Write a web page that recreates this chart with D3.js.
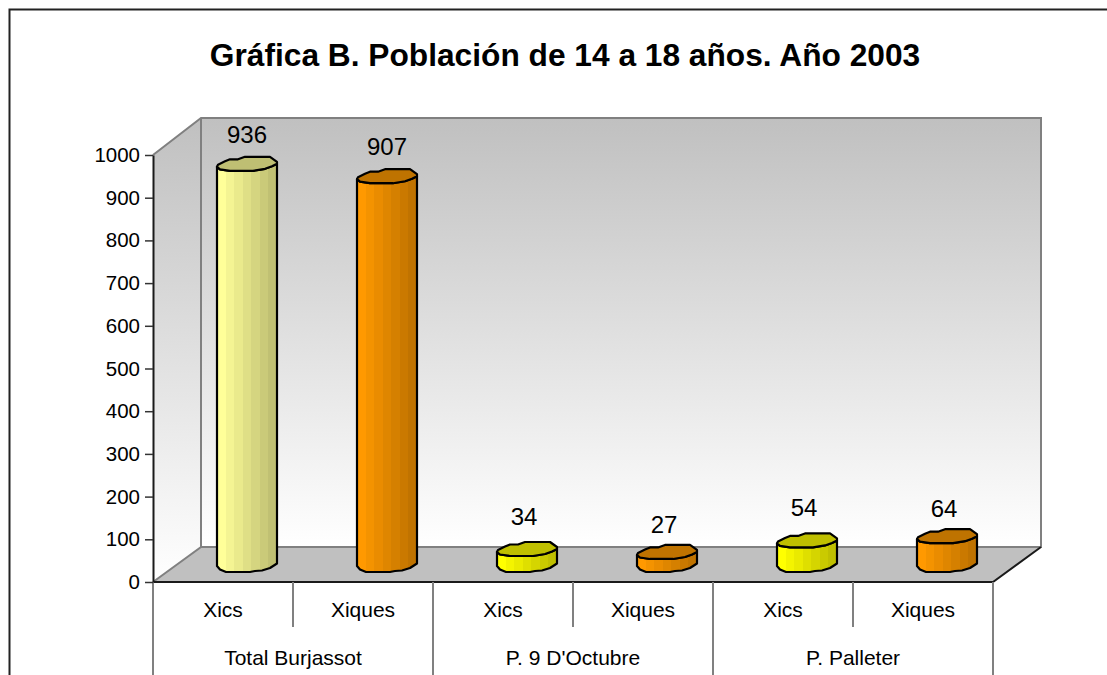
<!DOCTYPE html>
<html>
<head>
<meta charset="utf-8">
<script src="https://cdn.jsdelivr.net/npm/d3@7"></script>
<style>
body { margin: 0; background: #fff; }
svg { display: block; }
text { font-family: "Liberation Sans", Arial, sans-serif; fill: #000; }
</style>
</head>
<body>
<script>
var title = "Gráfica B. Población de 14 a 18 años. Año 2003";
var groups = ["Total Burjassot", "P. 9 D'Octubre", "P. Palleter"];
var categories = ["Xics", "Xiques", "Xics", "Xiques", "Xics", "Xiques"];
var values = [936, 907, 34, 27, 54, 64];
var barColors = ["#ffff99", "#ff9900", "#ffff00", "#ff9900", "#ffff00", "#ff9900"];
var yTicks = [0, 100, 200, 300, 400, 500, 600, 700, 800, 900, 1000];

var width = 1107, height = 675;
var x0 = 153, x1 = 993, yBase = 582, yTop = 155;
var depthX = 48, depthY = -35, wallTop = 118;

var svg = d3.select("body").append("svg")
    .attr("width", width)
    .attr("height", height);
var defs = svg.append("defs");

var x = d3.scaleBand().domain(d3.range(categories.length)).range([x0, x1]);
var xGroup = d3.scaleBand().domain(d3.range(groups.length)).range([x0, x1]);
var y = d3.scaleLinear().domain([0, 1000]).range([yBase, yTop]);

var line = d3.line();

// outer chart frame, its right and bottom edges fall off the page
svg.append("path")
    .attr("d", line([[9.5, height], [9.5, 9.5], [width, 9.5]]))
    .attr("fill", "none")
    .attr("stroke", "#222")
    .attr("stroke-width", 2);

svg.append("text")
    .attr("x", 565)
    .attr("y", 66)
    .attr("text-anchor", "middle")
    .attr("font-size", 31.7)
    .attr("font-weight", "bold")
    .text(title);

// walls
var wallGrad = defs.append("linearGradient")
    .attr("id", "wall")
    .attr("x1", 0).attr("y1", 0).attr("x2", 0).attr("y2", 1);
wallGrad.append("stop").attr("offset", 0).attr("stop-color", "#c0c0c0");
wallGrad.append("stop").attr("offset", 1).attr("stop-color", "#ffffff");

var backLeft = x0 + depthX, backRight = x1 + depthX, backBase = yBase + depthY;

svg.append("path")
    .attr("d", line([[x0, yBase], [x0, yTop], [backLeft, wallTop], [backLeft, backBase]]) + "Z")
    .attr("fill", "url(#wall)");
svg.append("rect")
    .attr("x", backLeft)
    .attr("y", wallTop)
    .attr("width", backRight - backLeft)
    .attr("height", backBase - wallTop)
    .attr("fill", "url(#wall)");

svg.append("path")
    .attr("d", line([[x0, yBase], [backLeft, backBase], [backRight, backBase], [x1, yBase]]) + "Z")
    .attr("fill", "#c0c0c0");

var grayLines = [
    [[x0, yTop], [backLeft, wallTop], [backRight, wallTop], [backRight, backBase], [backLeft, backBase]],
    [[backLeft, wallTop], [backLeft, backBase], [x0, yBase]]
];
svg.selectAll(".wallLine").data(grayLines).enter().append("path")
    .attr("class", "wallLine")
    .attr("d", function(d){ return line(d); })
    .attr("fill", "none")
    .attr("stroke", "#808080")
    .attr("stroke-width", 2);

svg.append("path")
    .attr("d", line([[x0, yBase], [x1, yBase], [backRight, backBase]]))
    .attr("fill", "none")
    .attr("stroke", "#1a1a1a")
    .attr("stroke-width", 2);

// category table under the floor
var sepLines = d3.range(categories.length + 1).map(function(i){
    return { x: x0 + i * x.bandwidth(), long: i % 2 == 0 };
});
svg.selectAll(".sep").data(sepLines).enter().append("line")
    .attr("class", "sep")
    .attr("x1", function(d){ return d.x; })
    .attr("x2", function(d){ return d.x; })
    .attr("y1", yBase)
    .attr("y2", function(d){ return d.long ? height : 627; })
    .attr("stroke", "#808080")
    .attr("stroke-width", 2);

svg.selectAll(".cat").data(categories).enter().append("text")
    .attr("class", "cat")
    .attr("x", function(d, i){ return x(i) + x.bandwidth() / 2; })
    .attr("y", 617)
    .attr("text-anchor", "middle")
    .attr("font-size", 21)
    .text(function(d){ return d; });

svg.selectAll(".group").data(groups).enter().append("text")
    .attr("class", "group")
    .attr("x", function(d, i){ return xGroup(i) + xGroup.bandwidth() / 2; })
    .attr("y", 665)
    .attr("text-anchor", "middle")
    .attr("font-size", 21)
    .text(function(d){ return d; });

// y axis
var axis = svg.append("g")
    .attr("transform", "translate(" + x0 + ",0)")
    .call(d3.axisLeft(y).tickValues(yTicks).tickFormat(d3.format("d")).tickSize(8).tickSizeOuter(0).tickPadding(5));
axis.select(".domain").attr("stroke", "#1a1a1a").attr("stroke-width", 2);
axis.selectAll(".tick line").attr("stroke", "#333").attr("stroke-width", 1.5);
axis.selectAll(".tick text").attr("font-size", 20.5).attr("font-family", null);

// bars: rough little cylinders like the old office 3d charts
var capShape = [[-30, 2], [-29, 0], [-22, -3.5], [-17, -5.5], [-9, -5.5], [-2, -8], [23, -8], [30, -3], [30, -1],
    [25, 1.5], [18, 4], [6, 6], [-4, 6], [-17, 6], [-27, 4.5]];
var capFront = capShape.slice(8).concat([[-30, 2]]);
var baseShape = [[30, -1], [23, 3.5], [15, 6], [8, 6.5], [3, 7.5], [-21, 7.5], [-27, 5], [-30, 1.5]];
var shade = 0.75;

function barGradient(id, color){
    var dark = d3.interpolateRgb(color, d3.rgb(color).darker(0.8));
    var grad = defs.append("linearGradient").attr("id", id);
    var n = 7;
    d3.range(n).forEach(function(i){
        grad.append("stop").attr("offset", i / n).attr("stop-color", dark(i / (n - 1)));
        grad.append("stop").attr("offset", (i + 1) / n).attr("stop-color", dark(i / (n - 1)));
    });
}

var bars = svg.selectAll(".bar").data(values).enter().append("g").attr("class", "bar");

bars.each(function(v, i){
    var cx = x(i) + x.bandwidth() / 2 + depthX / 2;
    var topY = y(v) + depthY / 2;
    var botY = yBase + depthY / 2;
    var color = barColors[i];
    barGradient("bar" + i, color);

    var body = capFront.map(function(p){ return [cx + p[0], topY + p[1]]; })
        .concat(baseShape.slice().reverse().map(function(p){ return [cx + p[0], botY + p[1]]; }));
    d3.select(this).append("path")
        .attr("d", line(body) + "Z")
        .attr("fill", "url(#bar" + i + ")")
        .attr("stroke", "#000")
        .attr("stroke-width", 2.2)
        .attr("stroke-linejoin", "round");

    var c = d3.rgb(color);
    d3.select(this).append("path")
        .attr("d", line(capShape.map(function(p){ return [cx + p[0], topY + p[1]]; })) + "Z")
        .attr("fill", d3.rgb(c.r * shade, c.g * shade, c.b * shade))
        .attr("stroke", "#000")
        .attr("stroke-width", 2.2)
        .attr("stroke-linejoin", "round");

    var labelUp = v > 500 ? 22 : (i % 2 ? 20 : 25);
    d3.select(this).append("text")
        .attr("x", cx + (v > 500 ? 0 : -3))
        .attr("y", topY - labelUp)
        .attr("text-anchor", "middle")
        .attr("font-size", 24)
        .text(v);
});
</script>
</body>
</html>
